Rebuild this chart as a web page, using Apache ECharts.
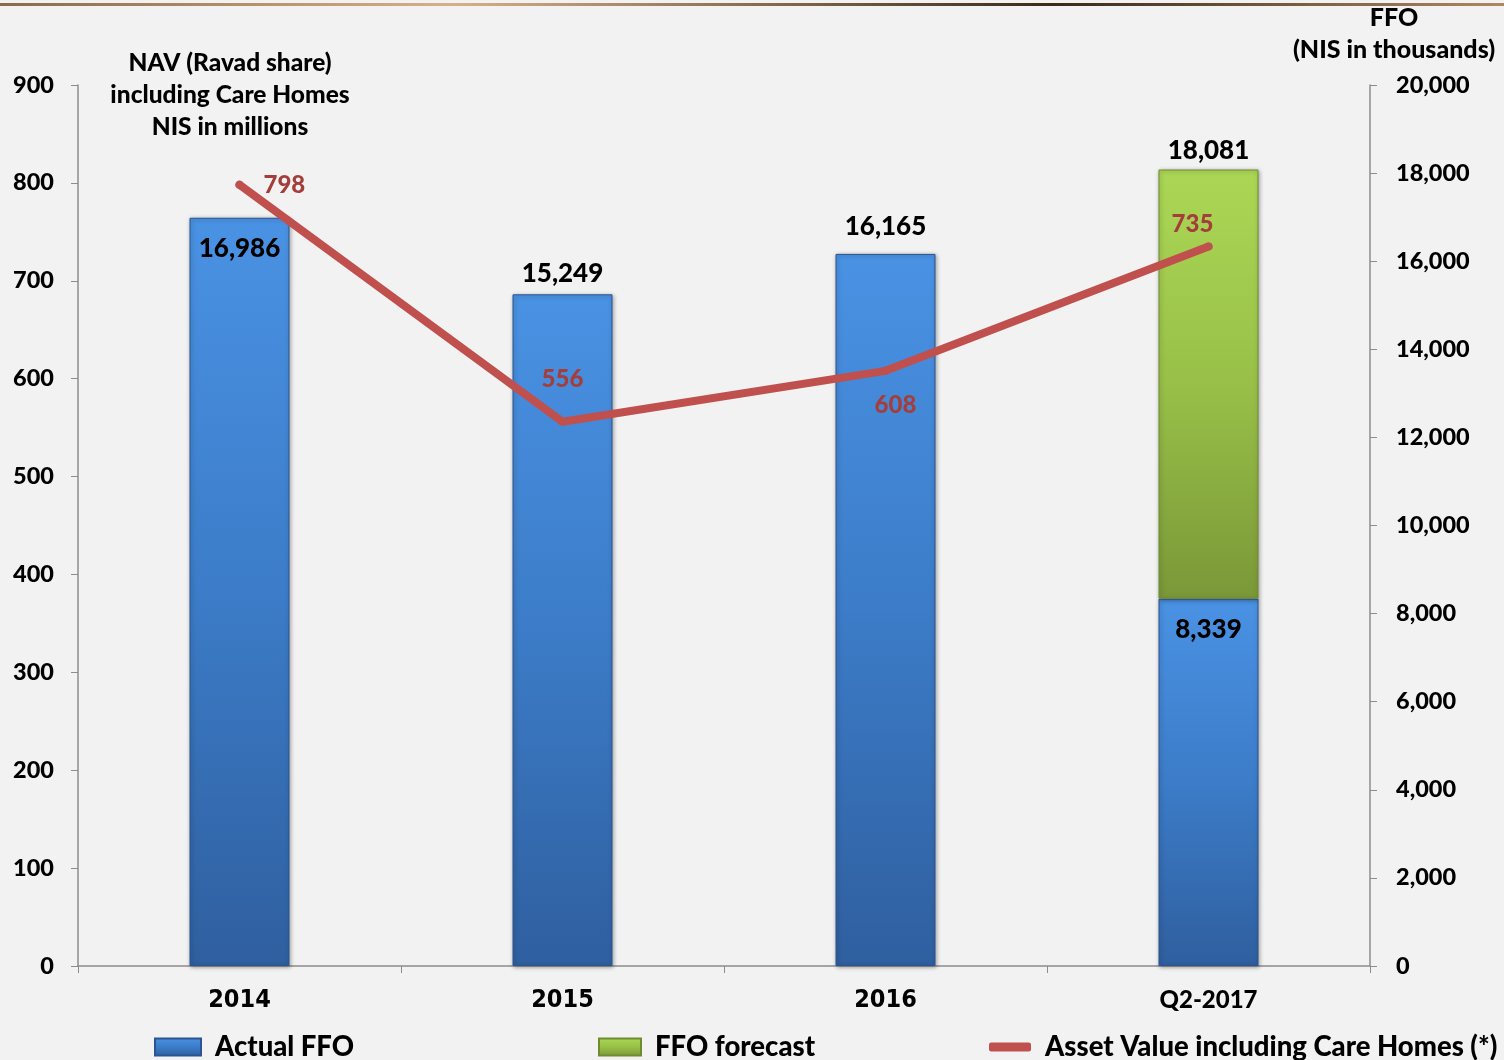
<!DOCTYPE html>
<html>
<head>
<meta charset="utf-8">
<script src="https://cdn.jsdelivr.net/npm/echarts@6/dist/echarts.min.js"></script>
<style>
  html, body { margin: 0; padding: 0; background: #f2f2f2; }
  #chart { width: 1504px; height: 1060px; }
</style>
</head>
<body>
<div id="chart"></div>
<script>
// Periods on the category axis
const categories = ['2014', '2015', '2016', 'Q2-2017'];
// FFO, NIS in thousands (right axis)
const actualFFO = [16986, 15249, 16165, 8339];
const ffoTotalWithForecast = [null, null, null, 18081];
// NAV incl. Care Homes, NIS in millions (left axis)
const navValues = [798, 556, 608, 735];
// Axis ticks
const navTicks = { min: 0, max: 900, interval: 100 };
const ffoTicks = { min: 0, max: 20000, interval: 2000 };

const forecastFFO = ffoTotalWithForecast.map((t, i) => (t == null ? null : t - actualFFO[i]));

const FONT = 'Lato';
const W = 900;
const fmt = v => v.toLocaleString('en-US');

const blueGrad = new echarts.graphic.LinearGradient(0, 0, 0, 1, [
  { offset: 0, color: '#4a92e4' },
  { offset: 0.5, color: '#3c7cc8' },
  { offset: 1, color: '#2f5f9f' }
]);
const greenGrad = new echarts.graphic.LinearGradient(0, 0, 0, 1, [
  { offset: 0, color: '#abd755' },
  { offset: 0.5, color: '#98c048' },
  { offset: 1, color: '#7a9838' }
]);

// Per-bar label placement for the actual FFO values
const actualLabelPos = ['insideTop', 'top', 'top', 'insideTop'];
const actualLabelDist = [18, 8, 14, 18];

// Per-point label placement for the NAV line
const navLabelPos = [
  { position: 'right', distance: 20 },
  { position: 'top', distance: 26 },
  { position: 'bottom', distance: 18, offset: [10, 0] },
  { position: 'top', distance: 6, offset: [-16, 0] }
];

const legendText = { fontSize: 27.5, fontWeight: W, fontFamily: FONT, color: '#000', padding: [10, 0, 0, 9] };

const chart = echarts.init(document.getElementById('chart'), null, { renderer: 'canvas' });

chart.setOption({
  backgroundColor: '#f2f2f2',
  animation: false,
  textStyle: { fontFamily: FONT, fontWeight: W, color: '#000' },
  grid: { left: 78, right: 134, top: 85, bottom: 94 },
  graphic: [
    {
      type: 'rect', x: 0, y: 3,
      shape: { width: 1504, height: 3 },
      style: {
        fill: new echarts.graphic.LinearGradient(0, 0, 1, 0, [
          { offset: 0, color: '#8a6a48' },
          { offset: 0.3, color: '#d8b088' },
          { offset: 0.7, color: '#3a2a1a' },
          { offset: 1, color: '#b08860' }
        ])
      }
    },
    {
      type: 'text', x: 230, y: 47,
      style: {
        text: 'NAV (Ravad share)\nincluding Care Homes\nNIS in millions',
        align: 'center', verticalAlign: 'top', lineHeight: 32,
        font: W + ' 24.5px ' + FONT, fill: '#000'
      }
    },
    {
      type: 'text', x: 1394, y: 2,
      style: {
        text: 'FFO\n(NIS in thousands)',
        align: 'center', verticalAlign: 'top', lineHeight: 32,
        font: W + ' 25px ' + FONT, fill: '#000'
      }
    }
  ],
  legend: [
    {
      data: [{ name: 'Actual FFO', icon: 'rect' }], left: 149, top: 1028, itemWidth: 46, itemHeight: 17,
      textStyle: legendText
    },
    {
      data: [{ name: 'FFO forecast', icon: 'rect' }], left: 593, top: 1028, itemWidth: 42, itemHeight: 17,
      textStyle: legendText
    },
    {
      data: [{ name: 'Asset Value including Care Homes (*)', icon: 'roundRect' }],
      left: 984, top: 1028, itemWidth: 42, itemHeight: 9,
      textStyle: legendText
    }
  ],
  xAxis: {
    type: 'category',
    data: categories,
    boundaryGap: true,
    axisLine: { lineStyle: { color: '#8c8c8c', width: 1.5 } },
    axisTick: { show: true, length: 7, lineStyle: { color: '#8c8c8c' } },
    axisLabel: {
      margin: 22,
      formatter: v => (/^\d{4}$/.test(v) ? '{y|' + v + '}' : '{q|' + v + '}'),
      rich: {
        y: { fontFamily: 'Liberation Sans Narrow, DejaVu Sans Condensed, Liberation Sans', fontWeight: 'bold', fontSize: 25, color: '#000' },
        q: { fontFamily: FONT, fontWeight: W, fontSize: 24, color: '#000' }
      }
    }
  },
  yAxis: [
    {
      type: 'value', position: 'left',
      min: navTicks.min, max: navTicks.max, interval: navTicks.interval,
      splitLine: { show: false },
      axisLine: { show: true, lineStyle: { color: '#8c8c8c', width: 1.5 } },
      axisTick: { show: true, length: 7, lineStyle: { color: '#8c8c8c' } },
      axisLabel: { margin: 24, fontSize: 23.5, fontWeight: W, fontFamily: FONT, color: '#000' }
    },
    {
      type: 'value', position: 'right',
      min: ffoTicks.min, max: ffoTicks.max, interval: ffoTicks.interval,
      splitLine: { show: false },
      axisLine: { show: true, lineStyle: { color: '#8c8c8c', width: 1.5 } },
      axisTick: { show: true, length: 7, lineStyle: { color: '#8c8c8c' } },
      axisLabel: {
        margin: 26, fontSize: 23.5, fontWeight: W, fontFamily: FONT, color: '#000',
        formatter: v => fmt(v)
      }
    }
  ],
  series: [
    {
      name: 'Actual FFO',
      type: 'bar',
      yAxisIndex: 1,
      stack: 'ffo',
      barWidth: 100,
      itemStyle: { color: blueGrad, borderColor: '#2a5590', borderWidth: 1, shadowColor: 'rgba(0,0,0,0.35)', shadowBlur: 4, shadowOffsetX: 1, shadowOffsetY: 1 },
      data: actualFFO.map((v, i) => ({
        value: v,
        label: {
          show: true, position: actualLabelPos[i], distance: actualLabelDist[i],
          formatter: p => fmt(p.value),
          fontSize: 26, fontWeight: W, fontFamily: FONT, color: '#000'
        }
      })),
      z: 2
    },
    {
      name: 'FFO forecast',
      type: 'bar',
      yAxisIndex: 1,
      stack: 'ffo',
      barWidth: 100,
      itemStyle: { color: greenGrad, borderColor: '#6f8c30', borderWidth: 1, shadowColor: 'rgba(0,0,0,0.35)', shadowBlur: 4, shadowOffsetX: 1, shadowOffsetY: 1 },
      data: forecastFFO.map((v, i) => ({
        value: v,
        label: {
          show: v != null, position: 'top', distance: 6,
          formatter: () => fmt(ffoTotalWithForecast[i]),
          fontSize: 26, fontWeight: W, fontFamily: FONT, color: '#000'
        }
      })),
      z: 2
    },
    {
      name: 'Asset Value including Care Homes (*)',
      type: 'line',
      yAxisIndex: 0,
      symbol: 'circle',
      symbolSize: 8,
      lineStyle: { color: '#c0504d', width: 8, cap: 'round', join: 'round' },
      itemStyle: { color: '#c0504d' },
      label: { show: true, fontSize: 24, fontWeight: W, fontFamily: FONT, color: '#a53e3b' },
      data: navValues.map((v, i) => ({ value: v, label: navLabelPos[i] })),
      z: 5
    }
  ]
});
</script>
</body>
</html>
